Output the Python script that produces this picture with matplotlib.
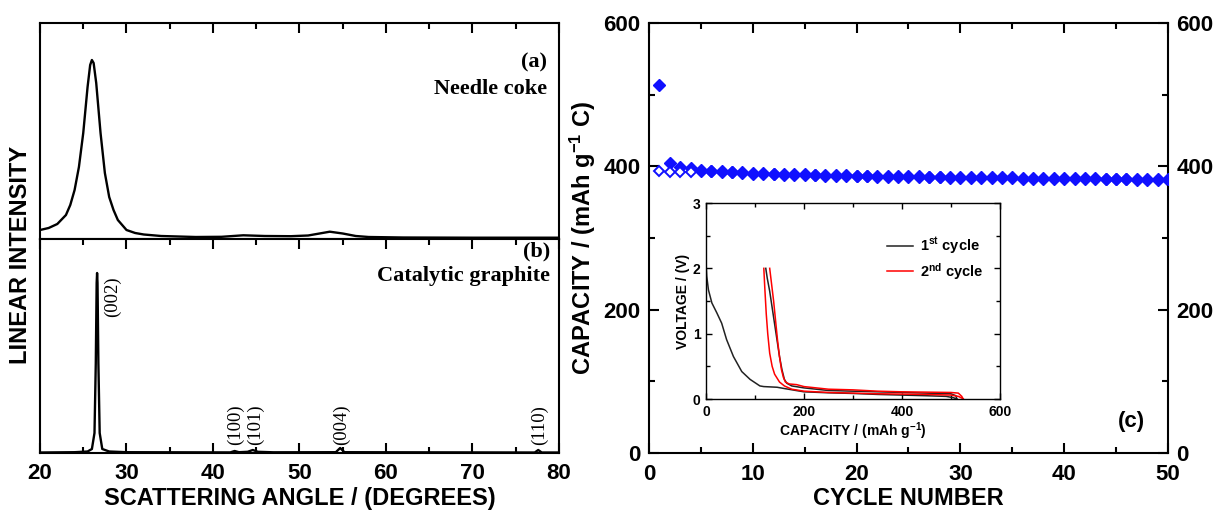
import matplotlib
matplotlib.use('Agg')
import matplotlib.pyplot as plt
from matplotlib.ticker import MultipleLocator

plt.rcParams['font.family'] = ['Liberation Sans', 'DejaVu Sans']
plt.rcParams['font.weight'] = 'bold'
plt.rcParams['axes.labelweight'] = 'bold'
plt.rcParams['mathtext.fontset'] = 'custom'
plt.rcParams['mathtext.rm'] = 'Liberation Sans:bold'
plt.rcParams['mathtext.it'] = 'Liberation Sans:bold'
plt.rcParams['mathtext.bf'] = 'Liberation Sans:bold'
plt.rcParams['mathtext.default'] = 'rm'

# (a) needle coke XRD (arbitrary intensity units)
coke_angle = [20.0, 21.0, 22.0, 23.0, 23.5, 24.0, 24.5, 25.0, 25.5, 25.8, 26.0, 26.2,
              26.5, 27.0, 27.5, 28.0, 28.5, 29.0, 30.0, 31.0, 32.0, 34.0, 38.0, 41.0,
              43.5, 46.0, 49.0, 51.0, 53.5, 55.0, 56.5, 58.0, 62.0, 70.0, 80.0]
coke_int = [9, 11, 15, 24, 34, 49, 72, 106, 152, 174, 179, 176,
            156, 106, 66, 42, 29, 19, 9, 6, 4.5, 3, 2, 2.2,
            3.7, 3, 2.8, 3.5, 7.3, 5.5, 3, 2, 1.5, 1.3, 1.3]

# (b) catalytic graphite XRD
graph_angle = [20.0, 24.0, 25.5, 26.0, 26.3, 26.45, 26.55, 26.6, 26.65, 26.75, 26.9,
               27.2, 28.0, 30.0, 42.0, 42.5, 43.0, 44.0, 44.6, 45.2, 47.0, 54.2, 54.7,
               55.2, 77.2, 77.6, 78.0, 80.0]
graph_int = [0.5, 0.8, 1.5, 4, 20, 90, 170, 180, 170, 90, 20,
             4, 1.5, 0.8, 0.6, 2, 0.8, 1.2, 3, 1.2, 0.7, 0.8, 5,
             0.8, 0.5, 3, 0.5, 0.5]

peak_names = ['(002)', '(100)', '(101)', '(004)', '(110)']
peak_pos = [28.4, 42.6, 44.9, 54.9, 77.7]

# (c) cycling
cycles = list(range(1, 51))
discharge = [513, 404, 399, 397, 395, 394, 393, 392.5, 392, 391,
             390.5, 390, 389.5, 389, 389, 388.5, 388, 388, 387.5, 387,
             387, 386.5, 386.5, 386, 386, 386, 385.5, 385.5, 385, 385,
             385, 385, 384.5, 384.5, 384.5, 384, 384, 384, 384, 384,
             383.5, 383.5, 383.5, 383, 383, 383, 382.5, 382.5, 382.5, 382]
charge = [394, 392.5, 391.5, 392, 394, 393, 392, 391.5, 391, 390,
          389.5, 389, 388.5, 388, 388, 387.5, 387, 387, 386.5, 386,
          386, 385.5, 385.5, 385, 385, 385, 384.5, 384.5, 384, 384,
          384, 384, 383.5, 383.5, 383.5, 383, 383, 383, 383, 383,
          382.5, 382.5, 382.5, 382, 382, 382, 381.5, 381.5, 381.5, 381]

# inset voltage profiles
c1_dis_cap = [0, 0, 1.5, 5, 12, 22, 32, 42, 56, 73, 90, 110, 118, 145, 160, 200,
              250, 300, 350, 400, 450, 490, 505, 512]
c1_dis_v = [2.7, 2.1, 1.88, 1.67, 1.47, 1.32, 1.16, 0.91, 0.65, 0.42, 0.30, 0.20,
            0.19, 0.18, 0.16, 0.11, 0.095, 0.085, 0.07, 0.06, 0.05, 0.04, 0.02, 0.0]
c1_chg_cap = [512, 510, 500, 450, 400, 350, 300, 250, 200, 175, 165, 160, 155, 150,
              145, 140, 135, 130, 125, 122]
c1_chg_v = [0.0, 0.05, 0.08, 0.09, 0.10, 0.11, 0.12, 0.13, 0.17, 0.20, 0.24, 0.30,
            0.45, 0.65, 0.90, 1.15, 1.40, 1.65, 1.85, 2.0]
c2_dis_cap = [118, 120, 123, 126, 130, 135, 140, 150, 160, 175, 200, 250, 300, 350,
              400, 450, 500, 515, 522, 525]
c2_dis_v = [2.0, 1.7, 1.3, 1.0, 0.7, 0.5, 0.38, 0.26, 0.2, 0.15, 0.12, 0.10, 0.09,
            0.08, 0.075, 0.07, 0.06, 0.04, 0.015, 0.0]
c2_chg_cap = [525, 522, 515, 500, 450, 400, 350, 300, 250, 200, 185, 170, 162, 158,
              154, 150, 146, 142, 138, 134, 130]
c2_chg_v = [0.0, 0.04, 0.09, 0.10, 0.105, 0.11, 0.12, 0.14, 0.15, 0.19, 0.22, 0.23,
            0.26, 0.33, 0.45, 0.65, 0.9, 1.2, 1.5, 1.75, 2.0]

fig = plt.figure(figsize=(12.19, 5.12), dpi=100)

ax_a = fig.add_axes([0.03281, 0.53320, 0.42576, 0.42188])
ax_b = fig.add_axes([0.03281, 0.11523, 0.42576, 0.41797])
ax_c = fig.add_axes([0.53240, 0.11523, 0.42576, 0.83984])
ax_in = fig.add_axes([0.57916, 0.22070, 0.24118, 0.38281])

serif = ['Liberation Serif', 'DejaVu Serif']

ax_a.plot(coke_angle, coke_int, color='black', lw=1.7)
ax_a.set_xlim(20, 80)
ax_a.set_ylim(0, 216)
ax_a.set_yticks([])
ax_a.xaxis.set_major_locator(MultipleLocator(10))
ax_a.xaxis.set_minor_locator(MultipleLocator(5))
ax_a.tick_params(axis='x', which='both', direction='in', top=True, bottom=False,
                 labelbottom=False, width=1.5)
ax_a.tick_params(which='major', length=7)
ax_a.tick_params(which='minor', length=4)
ax_a.text(0.977, 0.815, '(a)', transform=ax_a.transAxes, ha='right', va='center',
          family=serif, fontsize=16, fontweight='bold')
ax_a.text(0.977, 0.695, 'Needle coke', transform=ax_a.transAxes, ha='right',
          va='center', family=serif, fontsize=16, fontweight='bold')

ax_b.plot(graph_angle, graph_int, color='black', lw=1.7)
ax_b.set_xlim(20, 80)
ax_b.set_ylim(0, 214)
ax_b.set_yticks([])
ax_b.xaxis.set_major_locator(MultipleLocator(10))
ax_b.xaxis.set_minor_locator(MultipleLocator(5))
ax_b.tick_params(axis='x', which='both', direction='in', top=True, bottom=True,
                 width=1.5, labelsize=16, pad=7)
ax_b.tick_params(which='major', length=7)
ax_b.tick_params(which='minor', length=4)
ax_b.text(0.983, 0.944, '(b)', transform=ax_b.transAxes, ha='right', va='center',
          family=serif, fontsize=16, fontweight='bold')
ax_b.text(0.983, 0.825, 'Catalytic graphite', transform=ax_b.transAxes, ha='right',
          va='center', family=serif, fontsize=16, fontweight='bold')
for name, pos in zip(peak_names, peak_pos):
    if name == '(002)':
        ax_b.text(pos, 177, name, rotation=90, ha='center', va='top', family=serif,
                  fontsize=13.5, fontweight='normal')
    else:
        ax_b.text(pos, 8, name, rotation=90, ha='center', va='bottom', family=serif,
                  fontsize=13.5, fontweight='normal')
ax_b.set_xlabel('SCATTERING ANGLE / (DEGREES)', fontsize=17, fontweight='bold',
                labelpad=2)

for ax in (ax_a, ax_b):
    for s in ax.spines.values():
        s.set_linewidth(1.5)

fig.text(0.017, 0.502, 'LINEAR INTENSITY', rotation=90, ha='center', va='center',
         fontsize=17, fontweight='bold')

# capacity vs cycle
ax_c.plot(cycles, discharge, linestyle='none', marker='D', ms=6.3, color='#1010ff',
          mec='#1010ff', zorder=3)
ax_c.plot(cycles[:4], charge[:4], linestyle='none', marker='D', ms=5, mfc='white',
          mec='#1010ff', mew=1.4, zorder=4)
ax_c.plot(cycles[4:], charge[4:], linestyle='none', marker='D', ms=6.3, color='#1010ff',
          zorder=2)
ax_c.set_xlim(0, 50)
ax_c.set_ylim(0, 600)
ax_c.xaxis.set_major_locator(MultipleLocator(10))
ax_c.xaxis.set_minor_locator(MultipleLocator(5))
ax_c.yaxis.set_major_locator(MultipleLocator(200))
ax_c.yaxis.set_minor_locator(MultipleLocator(100))
ax_c.tick_params(which='both', direction='in', top=True, right=True, labelright=True,
                 width=1.5, labelsize=16)
ax_c.tick_params(axis='x', pad=8)
ax_c.tick_params(axis='y', pad=6)
ax_c.tick_params(which='major', length=7)
ax_c.tick_params(which='minor', length=4)
for s in ax_c.spines.values():
    s.set_linewidth(1.5)
ax_c.set_xlabel('CYCLE NUMBER', fontsize=17, fontweight='bold', labelpad=1)
ax_c.set_ylabel(r'CAPACITY / (mAh g$^{-1}$ C)', fontsize=17, fontweight='bold',
                labelpad=4)
ax_c.text(0.93, 0.074, '(c)', transform=ax_c.transAxes, ha='center', va='center',
          fontsize=16, fontweight='bold')

# inset
ax_in.plot(c1_dis_cap, c1_dis_v, color='#222222', lw=1.1, label=r'1$^{st}$ cycle')
ax_in.plot(c1_chg_cap, c1_chg_v, color='#222222', lw=1.1)
ax_in.plot(c2_dis_cap, c2_dis_v, color='red', lw=1.1, label=r'2$^{nd}$ cycle')
ax_in.plot(c2_chg_cap, c2_chg_v, color='red', lw=1.1)
ax_in.set_xlim(0, 600)
ax_in.set_ylim(0, 3)
ax_in.xaxis.set_major_locator(MultipleLocator(200))
ax_in.xaxis.set_minor_locator(MultipleLocator(100))
ax_in.yaxis.set_major_locator(MultipleLocator(1))
ax_in.yaxis.set_minor_locator(MultipleLocator(0.5))
ax_in.tick_params(which='both', direction='in', top=True, right=True, width=1.0,
                  labelsize=10, pad=4)
ax_in.tick_params(which='major', length=4)
ax_in.tick_params(which='minor', length=3)
for s in ax_in.spines.values():
    s.set_linewidth(1.0)
ax_in.set_xlabel(r'CAPACITY / (mAh g$^{-1}$)', fontsize=10, fontweight='bold',
                 labelpad=1)
ax_in.set_ylabel('VOLTAGE / (V)', fontsize=10, fontweight='bold', labelpad=2)
ax_in.legend(loc='upper right', bbox_to_anchor=(0.99, 0.90), frameon=False,
             fontsize=10.5, handlelength=1.8, handletextpad=0.5, labelspacing=0.3)

fig.savefig('out.png', dpi=100)
